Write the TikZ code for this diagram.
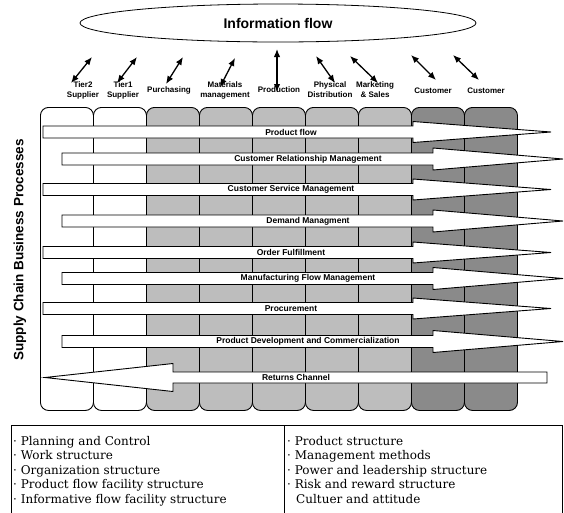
\documentclass[tikz,border=0pt]{standalone}
\usepackage{fontspec}
\setmainfont{Liberation Sans}
\newfontfamily\boxserif{DejaVu Serif}
\usetikzlibrary{arrows.meta,shapes.geometric}

\begin{document}
\begin{tikzpicture}[x=1pt,y=-1pt,
  colbox/.style={draw=black,line width=0.9pt,rounded corners=8pt,minimum width=53pt,minimum height=303pt,inner sep=0pt,anchor=north west},
  whitecol/.style={colbox,fill=white},
  lightcol/.style={colbox,fill=black!26},
  darkcol/.style={colbox,fill=black!46},
  flowarrow/.style={draw=black,line width=0.9pt,fill=white,line join=miter},
  flowlabel/.style={font=\fontsize{8.5}{9}\selectfont\bfseries,inner sep=0pt},
  toplabel/.style={font=\fontsize{8}{10}\selectfont\bfseries,align=center,inner sep=0pt},
  infoarrow/.style={{Latex[length=8pt,width=6.5pt]}-{Latex[length=8pt,width=6.5pt]},line width=1.3pt},
  listtext/.style={font=\boxserif\fontsize{12}{14}\selectfont,anchor=base west,inner sep=0pt},
  listbox/.style={draw=black,line width=0.9pt,anchor=north west,minimum height=95pt,inner sep=0pt}
]
\useasboundingbox (0,0) rectangle (564,512);

% information flow
\node[draw,ellipse,line width=0.8pt,minimum width=396pt,minimum height=38pt,inner sep=0pt,
      font=\fontsize{14}{16}\selectfont\bfseries] (info) at (278,23) {Information flow};

% functional areas
\node[toplabel] (t1) at (83,90) {Tier2\\Supplier};
\node[toplabel] (t2) at (123,90) {Tier1\\Supplier};
\node[toplabel] (t3) at (169,90) {Purchasing};
\node[toplabel] (t4) at (225,90) {Materials\\management};
\node[toplabel] (t5) at (279,90) {Production};
\node[toplabel] (t6) at (330,90) {Physical\\Distribution};
\node[toplabel] (t7) at (375,90) {Marketing\\\& Sales};
\node[toplabel] (t8) at (433,91) {Customer};
\node[toplabel] (t9) at (486,91) {Customer};

% two-way information arrows
\coordinate (p1a) at (71,83);   \coordinate (p1b) at (92,57);
\coordinate (p2a) at (117,83);  \coordinate (p2b) at (137,57);
\coordinate (p3a) at (166,84);  \coordinate (p3b) at (183,57);
\coordinate (p4a) at (220,87);  \coordinate (p4b) at (235,58);
\coordinate (p5a) at (277,92);  \coordinate (p5b) at (277,49);
\coordinate (p6a) at (316,56);  \coordinate (p6b) at (335,83);
\coordinate (p7a) at (350,56);  \coordinate (p7b) at (378,83);
\coordinate (p8a) at (411,55);  \coordinate (p8b) at (436,80);
\coordinate (p9a) at (453,55);  \coordinate (p9b) at (479,80);
\foreach \k in {1,...,9} \draw[infoarrow] (p\k a) -- (p\k b);

% columns
\foreach \i/\sty in {0/whitecol,1/whitecol,2/lightcol,3/lightcol,4/lightcol,5/lightcol,6/lightcol,7/darkcol,8/darkcol}
  \node[\sty] (col\i) at ({40+\i*53},107) {};

% processes starting at the first tier
\foreach \yc/\txt [count=\n] in {132/Product flow,189.5/Customer Service Management,252.5/Order Fulfillment,308.5/Procurement}{
  \draw[flowarrow] (43,\yc-6) -- (413,\yc-6) -- (413,\yc-10.5) -- (551,\yc) -- (413,\yc+10.5) -- (413,\yc+6) -- (43,\yc+6) -- cycle;
  \node[flowlabel] (outrow\n) at (291,\yc) {\txt};
}
% processes starting further in
\foreach \yc/\txt [count=\n] in {159/Customer Relationship Management,221/Demand Managment,278.5/Manufacturing Flow Management,341.5/Product Development and Commercialization}{
  \draw[flowarrow] (62,\yc-6) -- (433,\yc-6) -- (433,\yc-11) -- (563,\yc) -- (433,\yc+11) -- (433,\yc+6) -- (62,\yc+6) -- cycle;
  \node[flowlabel] (inrow\n) at (308,\yc) {\txt};
}
% returns go back up the chain
\draw[flowarrow] (547,372) -- (173,372) -- (173,363.5) -- (45,377.5) -- (173,391.5) -- (173,383) -- (547,383) -- cycle;
\node[flowlabel] (returns) at (296,377.5) {Returns Channel};

% side title
\node[rotate=90,inner sep=0pt,font=\fontsize{13.5}{14}\selectfont\bfseries] (sidetitle) at (20,250) {Supply Chain Business Processes};

% management components
\node[listbox,minimum width=273pt] (leftbox) at (11,425) {};
\node[listbox,minimum width=278pt] (rightbox) at (284,425) {};
\node[listtext] (l1) at (13,445) {· Planning and Control};
\node[listtext] (l2) at (13,459.5) {· Work structure};
\node[listtext] (l3) at (13,474) {· Organization structure};
\node[listtext] (l4) at (13,488.5) {· Product flow facility structure};
\node[listtext] (l5) at (13,503) {· Informative flow facility structure};
\node[listtext] (r1) at (287,445) {· Product structure};
\node[listtext] (r2) at (287,459.5) {· Management methods};
\node[listtext] (r3) at (287,474) {· Power and leadership structure};
\node[listtext] (r4) at (287,488.5) {· Risk and reward structure};
\node[listtext] (r5) at (296,503) {Cultuer and attitude};
\end{tikzpicture}
\end{document}
